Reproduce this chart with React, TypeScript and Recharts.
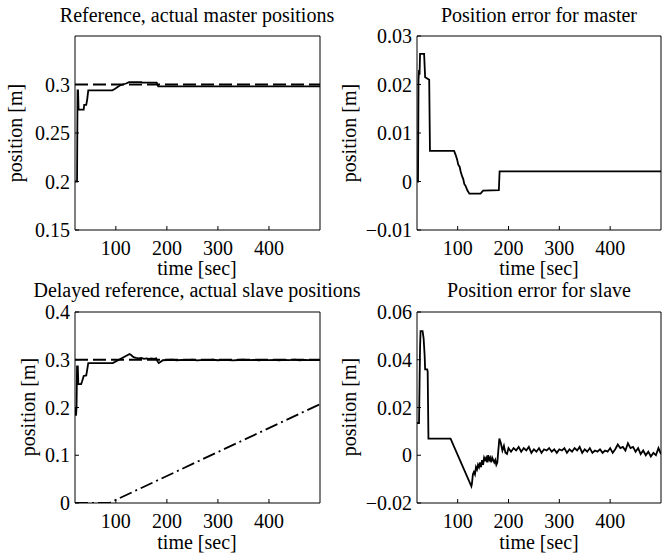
import { LineChart, Line, XAxis, YAxis } from "recharts";

const FONT = "'Liberation Serif', 'Times New Roman', Times, serif";

// shared time axis
const timeDomain: [number, number] = [20, 500];
const timeTicks = [100, 200, 300, 400];

// top left: reference and actual master positions
const masterTicks = [0.15, 0.2, 0.25, 0.3];
const refT = [20, 500];
const refPos = [0.3, 0.3];
const masterT = [20, 24, 25, 26, 27, 37, 38, 42, 44, 46, 93, 97, 102, 108, 114, 120, 126, 150, 152, 180, 183, 500];
const masterPos = [0.2, 0.2, 0.294, 0.294, 0.274, 0.274, 0.279, 0.279, 0.285, 0.294, 0.294, 0.295, 0.297, 0.299, 0.3, 0.301, 0.3025, 0.3025, 0.302, 0.302, 0.298, 0.298];

// top right: position error for master
const masterErrTicks = [-0.01, 0, 0.01, 0.02, 0.03];
const masterErrT = [20, 22, 23, 24, 25, 26, 34, 36, 44, 45.5, 93, 96, 99, 101, 104, 106, 109, 111, 113, 116, 119, 123, 145, 150, 181, 182.5, 500];
const masterErr = [0, 0, 0.021, 0.023, 0.022, 0.0263, 0.0263, 0.0215, 0.021, 0.0063, 0.0063, 0.0055, 0.0045, 0.0035, 0.003, 0.002, 0.001, 0.0005, -0.0005, -0.001, -0.0018, -0.0025, -0.0025, -0.0019, -0.0018, 0.0021, 0.0021];

// bottom left: delayed reference, actual slave positions
const slaveTicks = [0, 0.1, 0.2, 0.3, 0.4];
const delayedT = [20, 87, 500];
const delayedPos = [0, 0, 0.207];
const slaveT = [
  20, 21, 22, 23, 24, 25.5, 26.5, 32, 34, 37, 42, 44, 46, 94, 127, 130, 133, 136, 140, 145, 150, 155, 160, 165, 170, 175, 179, 182, 184, 188, 192,
  200, 210, 220, 230, 240, 250, 260, 270, 280, 290, 300, 310, 320, 330, 340, 350, 360, 370, 380, 390, 400, 410, 420, 430, 440, 450, 460, 470, 480, 490, 500,
];
const slavePos = [
  0.2, 0.19, 0.183, 0.2, 0.286, 0.286, 0.249, 0.249, 0.255, 0.266, 0.267, 0.28, 0.293, 0.293, 0.312, 0.31, 0.307, 0.305, 0.304, 0.303, 0.304, 0.302, 0.303, 0.302, 0.303, 0.302, 0.303, 0.296, 0.293, 0.296, 0.299,
  0.2995, 0.3, 0.299, 0.2998, 0.2992, 0.3, 0.2988, 0.2998, 0.2993, 0.3, 0.299, 0.2998, 0.2992, 0.2985, 0.2995, 0.3, 0.2992, 0.2998, 0.299, 0.2996, 0.2992, 0.2999, 0.299, 0.2997, 0.2993, 0.3002, 0.299, 0.2997, 0.2992, 0.2998, 0.2995,
];

// bottom right: position error for slave
const slaveErrTicks = [-0.02, 0, 0.02, 0.04, 0.06];
const slaveErrT = [
  20, 24, 25, 26, 27, 31, 33, 35, 36, 40, 41, 42.5, 86, 127, 128, 130, 132, 134, 136, 138, 140, 142, 144, 146, 148, 150, 152, 154, 156, 158, 160,
  162, 164, 166, 168, 170, 172, 174, 176, 178, 182, 185, 188, 191, 194, 197,
  200, 205, 210, 215, 220, 225, 230, 235, 240, 245, 250, 255, 260, 265, 270, 275, 280, 285, 290, 295, 300, 305, 310, 315, 320, 325, 330, 335, 340,
  345, 350, 355, 360, 365, 370, 375, 380, 385, 390, 395, 400, 405, 410, 415, 420, 425, 430, 435, 440, 445, 450, 455, 460, 465, 470, 475, 480, 485,
  490, 495, 500,
];
const slaveErr = [
  0.0135, 0.0135, 0.03, 0.045, 0.052, 0.052, 0.049, 0.042, 0.036, 0.036, 0.035, 0.007, 0.007, -0.013, -0.012, -0.008, -0.007, -0.008, -0.005, -0.006, -0.004, -0.005, -0.003, -0.005, -0.002, -0.004, -0.001, -0.002, -0.001, -0.003, 0,
  -0.002, -0.001, -0.003, -0.001, -0.002, -0.003, -0.002, -0.004, -0.003, 0.007, 0.005, 0.002, 0.004, 0.001, 0.0005,
  0.003, 0.0015, 0.003, 0.002, 0.0035, 0.0015, 0.003, 0.002, 0.0035, 0.001, 0.0025, 0.0015, 0.003, 0.001, 0.0025, 0.002, 0.003, 0.0015, 0.0025, 0.001, 0.0025, 0.002, 0.003, 0.001, 0.0025, 0.0015, 0.003, 0.002, 0.0035,
  0.001, 0.0025, 0.0015, 0.003, 0.001, 0.002, 0.0015, 0.0025, 0.001, 0.002, 0.0015, 0.003, 0.001, 0.0025, 0.0045, 0.003, 0.0035, 0.002, 0.005, 0.003, 0.0035, 0.0015, 0.003, 0.0005, 0.002, 0, 0.0015, -0.0005, 0.001,
  0, 0.003, 0.0005,
];

const zip = (ts: number[], vs: number[]) => ts.map((t, i) => ({ t, v: vs[i] }));

const fmt = (v: number) => (v < 0 ? "\u2212" + String(-v) : String(v));

type Series = { data: { t: number; v: number }[]; dash?: string };

function Panel(props: {
  left: number;
  top: number;
  leftW: number;
  marginTop: number;
  marginRight: number;
  bottomH: number;
  yDomain: [number, number];
  yTicks: number[];
  series: Series[];
}) {
  const { left, top, leftW, marginTop, marginRight, bottomH, yDomain, yTicks, series } = props;
  const tickStyle = { fontSize: 20, fill: "#000", fontFamily: FONT };
  const axisLine = { stroke: "#000", strokeWidth: 1 };
  return (
    <div style={{ position: "absolute", left, top }}>
      <LineChart width={331} height={277} margin={{ top: marginTop, right: marginRight, bottom: 0, left: 0 }}>
        <XAxis
          xAxisId="b"
          type="number"
          dataKey="t"
          domain={timeDomain}
          ticks={timeTicks}
          allowDataOverflow
          height={bottomH}
          tickSize={-4}
          tickMargin={15}
          tick={tickStyle}
          axisLine={axisLine}
          tickLine={axisLine}
        />
        <XAxis
          xAxisId="top"
          orientation="top"
          type="number"
          dataKey="t"
          domain={timeDomain}
          ticks={timeTicks}
          allowDataOverflow
          height={1}
          tickSize={-4}
          tick={false}
          axisLine={axisLine}
          tickLine={axisLine}
        />
        <YAxis
          yAxisId="l"
          type="number"
          domain={yDomain}
          ticks={yTicks}
          allowDataOverflow
          width={leftW}
          tickSize={-4}
          tickMargin={9}
          tick={tickStyle}
          tickFormatter={fmt}
          axisLine={axisLine}
          tickLine={axisLine}
        />
        <YAxis
          yAxisId="r"
          orientation="right"
          type="number"
          domain={yDomain}
          ticks={yTicks}
          allowDataOverflow
          width={1}
          tickSize={-4}
          tick={false}
          axisLine={axisLine}
          tickLine={axisLine}
        />
        {series.map((s, i) => (
          <Line
            key={i}
            data={s.data}
            dataKey="v"
            xAxisId="b"
            yAxisId="l"
            type="linear"
            stroke="#000"
            strokeWidth={1.8}
            strokeDasharray={s.dash}
            dot={false}
            activeDot={false}
            isAnimationActive={false}
          />
        ))}
      </LineChart>
    </div>
  );
}

function Text({ x, y, text, rotate }: { x: number; y: number; text: string; rotate?: boolean }) {
  return (
    <div
      style={{
        position: "absolute",
        left: x,
        top: y,
        transform: `translate(-50%, -50%)${rotate ? " rotate(-90deg)" : ""}`,
        whiteSpace: "nowrap",
        fontFamily: FONT,
        fontSize: 20,
        lineHeight: 1,
        color: "#000",
      }}
    >
      {text}
    </div>
  );
}

export default function App() {
  return (
    <div style={{ position: "absolute", left: 0, top: 0, width: 662, height: 554, background: "#fff", overflow: "hidden" }}>
      <Panel
        left={0}
        top={0}
        leftW={75}
        marginTop={35}
        marginRight={10}
        bottomH={47}
        yDomain={[0.15, 0.35]}
        yTicks={masterTicks}
        series={[
          { data: zip(refT, refPos), dash: "13 5" },
          { data: zip(masterT, masterPos) },
        ]}
      />
      <Panel
        left={331}
        top={0}
        leftW={86}
        marginTop={35}
        marginRight={0}
        bottomH={47}
        yDomain={[-0.01, 0.03]}
        yTicks={masterErrTicks}
        series={[{ data: zip(masterErrT, masterErr) }]}
      />
      <Panel
        left={0}
        top={277}
        leftW={75}
        marginTop={34}
        marginRight={10}
        bottomH={51}
        yDomain={[0, 0.4]}
        yTicks={slaveTicks}
        series={[
          { data: zip(refT, refPos), dash: "13 5" },
          { data: zip(delayedT, delayedPos), dash: "13 4 2 4" },
          { data: zip(slaveT, slavePos) },
        ]}
      />
      <Panel
        left={331}
        top={277}
        leftW={86}
        marginTop={34}
        marginRight={0}
        bottomH={51}
        yDomain={[-0.02, 0.06]}
        yTicks={slaveErrTicks}
        series={[{ data: zip(slaveErrT, slaveErr) }]}
      />

      <Text x={197} y={15} text="Reference, actual master positions" />
      <Text x={539} y={15} text="Position error for master" />
      <Text x={197} y={290} text="Delayed reference, actual slave positions" />
      <Text x={539} y={290} text="Position error for slave" />

      <Text x={197} y={268} text="time [sec]" />
      <Text x={539} y={268} text="time [sec]" />
      <Text x={197} y={542} text="time [sec]" />
      <Text x={539} y={542} text="time [sec]" />

      <Text x={15} y={133} text="position [m]" rotate />
      <Text x={349} y={133} text="position [m]" rotate />
      <Text x={28} y={407} text="position [m]" rotate />
      <Text x={349} y={407} text="position [m]" rotate />
    </div>
  );
}
